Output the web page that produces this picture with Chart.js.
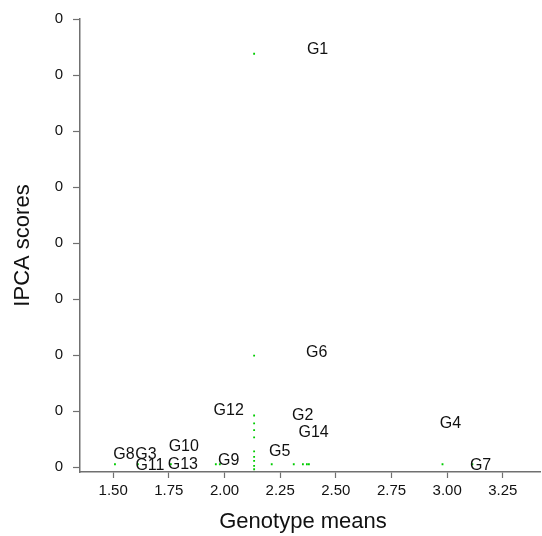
<!DOCTYPE html>
<html>
<head>
<meta charset="utf-8">
<script src="https://cdn.jsdelivr.net/npm/chart.js@4"></script>
<style>
  html, body { margin: 0; padding: 0; background: #fff; }
  #wrap { width: 542px; height: 536px; }
</style>
</head>
<body>
<div id="wrap"><canvas id="chart" width="542" height="536"></canvas></div>
<script>
// genotype labels: position = (genotype mean, IPCA score)
const genotypes = ['G1', 'G2', 'G3', 'G4', 'G5', 'G6', 'G7', 'G8', 'G9', 'G10', 'G11', 'G12', 'G13', 'G14'];
const genoMeans = [2.418, 2.351, 1.647, 3.015, 2.248, 2.414, 3.150, 1.548, 2.019, 1.817, 1.665, 2.019, 1.813, 2.400];
const ipcaScores = [7.45, 0.92, 0.23, 0.78, 0.27, 2.04, 0.02, 0.23, 0.12, 0.37, 0.02, 1.00, 0.05, 0.62];

// small green plotted points
const pointX = [2.133, 2.133, 2.133, 2.133, 2.133, 2.133, 2.133, 2.133, 2.133, 2.133, 2.133,
                1.508, 1.611, 1.759, 1.961, 1.979, 2.212, 2.311, 2.352, 2.370, 2.379, 2.979, 3.113];
const pointY = [7.38, 1.99, 0.92, 0.78, 0.66, 0.53, 0.28, 0.18, 0.11, 0.02, -0.04,
                0.05, 0.05, 0.05, 0.05, 0.05, 0.05, 0.05, 0.05, 0.05, 0.05, 0.05, 0.05];

// axis ticks
const xTicks = [1.50, 1.75, 2.00, 2.25, 2.50, 2.75, 3.00, 3.25];
const yTicks = [0, 1, 2, 3, 4, 5, 6, 7, 8];
const yTickLabels = ['0', '0', '0', '0', '0', '0', '0', '0', '0'];

const xTitle = 'Genotype means';
const yTitle = 'IPCA scores';

const FONT = 'Liberation Sans, Arial, sans-serif';
const axisGrey = '#707070';

const labelPlugin = {
  id: 'genoLabels',
  afterDatasetsDraw(chart) {
    const {ctx, scales} = chart;
    ctx.save();
    ctx.font = '16px ' + FONT;
    ctx.fillStyle = '#111';
    ctx.textAlign = 'center';
    ctx.textBaseline = 'middle';
    genotypes.forEach((g, i) => {
      ctx.fillText(g, scales.x.getPixelForValue(genoMeans[i]), scales.y.getPixelForValue(ipcaScores[i]));
    });
    // x axis title, centred a little left of the canvas middle like the original
    ctx.font = '22px ' + FONT;
    ctx.fillText(xTitle, 303, 522);
    ctx.restore();
  }
};

new Chart(document.getElementById('chart'), {
  type: 'scatter',
  data: {
    datasets: [{
      data: pointX.map((x, i) => ({x: x, y: pointY[i]})),
      pointStyle: 'rect',
      pointRadius: 1.3,
      pointHoverRadius: 1.3,
      borderWidth: 0,
      backgroundColor: '#00cc00'
    }]
  },
  options: {
    responsive: false,
    animation: false,
    events: [],
    layout: { padding: { top: 10, left: 0, right: 0, bottom: 0 } },
    plugins: { legend: { display: false }, tooltip: { enabled: false } },
    scales: {
      x: {
        type: 'linear',
        min: 1.351,
        max: 3.42,
        afterBuildTicks: s => { s.ticks = xTicks.map(v => ({value: v})); },
        afterFit: s => { s.height = 64; },
        ticks: {
          callback: v => v.toFixed(2),
          font: { family: FONT, size: 15 },
          color: '#111',
          padding: 4,
          maxRotation: 0,
          autoSkip: false
        },
        grid: { drawOnChartArea: false, drawTicks: true, tickLength: 6, tickColor: axisGrey, tickWidth: 1.2 },
        border: { display: true, color: axisGrey, width: 1.5 },
        title: { display: false }
      },
      y: {
        type: 'linear',
        min: -0.089,
        max: 8,
        afterBuildTicks: s => { s.ticks = yTicks.map(v => ({value: v})); },
        afterFit: s => { s.width = 80; },
        ticks: {
          callback: (v, i) => yTickLabels[i],
          font: { family: FONT, size: 15 },
          color: '#111',
          padding: 10,
          autoSkip: false
        },
        grid: { drawOnChartArea: false, drawTicks: true, tickLength: 7, tickColor: axisGrey, tickWidth: 1.2 },
        border: { display: true, color: axisGrey, width: 1.5 },
        title: {
          display: true,
          text: yTitle,
          font: { family: FONT, size: 22 },
          color: '#111',
          padding: { top: 10, bottom: 0 }
        }
      }
    }
  },
  plugins: [labelPlugin]
});
</script>
</body>
</html>
